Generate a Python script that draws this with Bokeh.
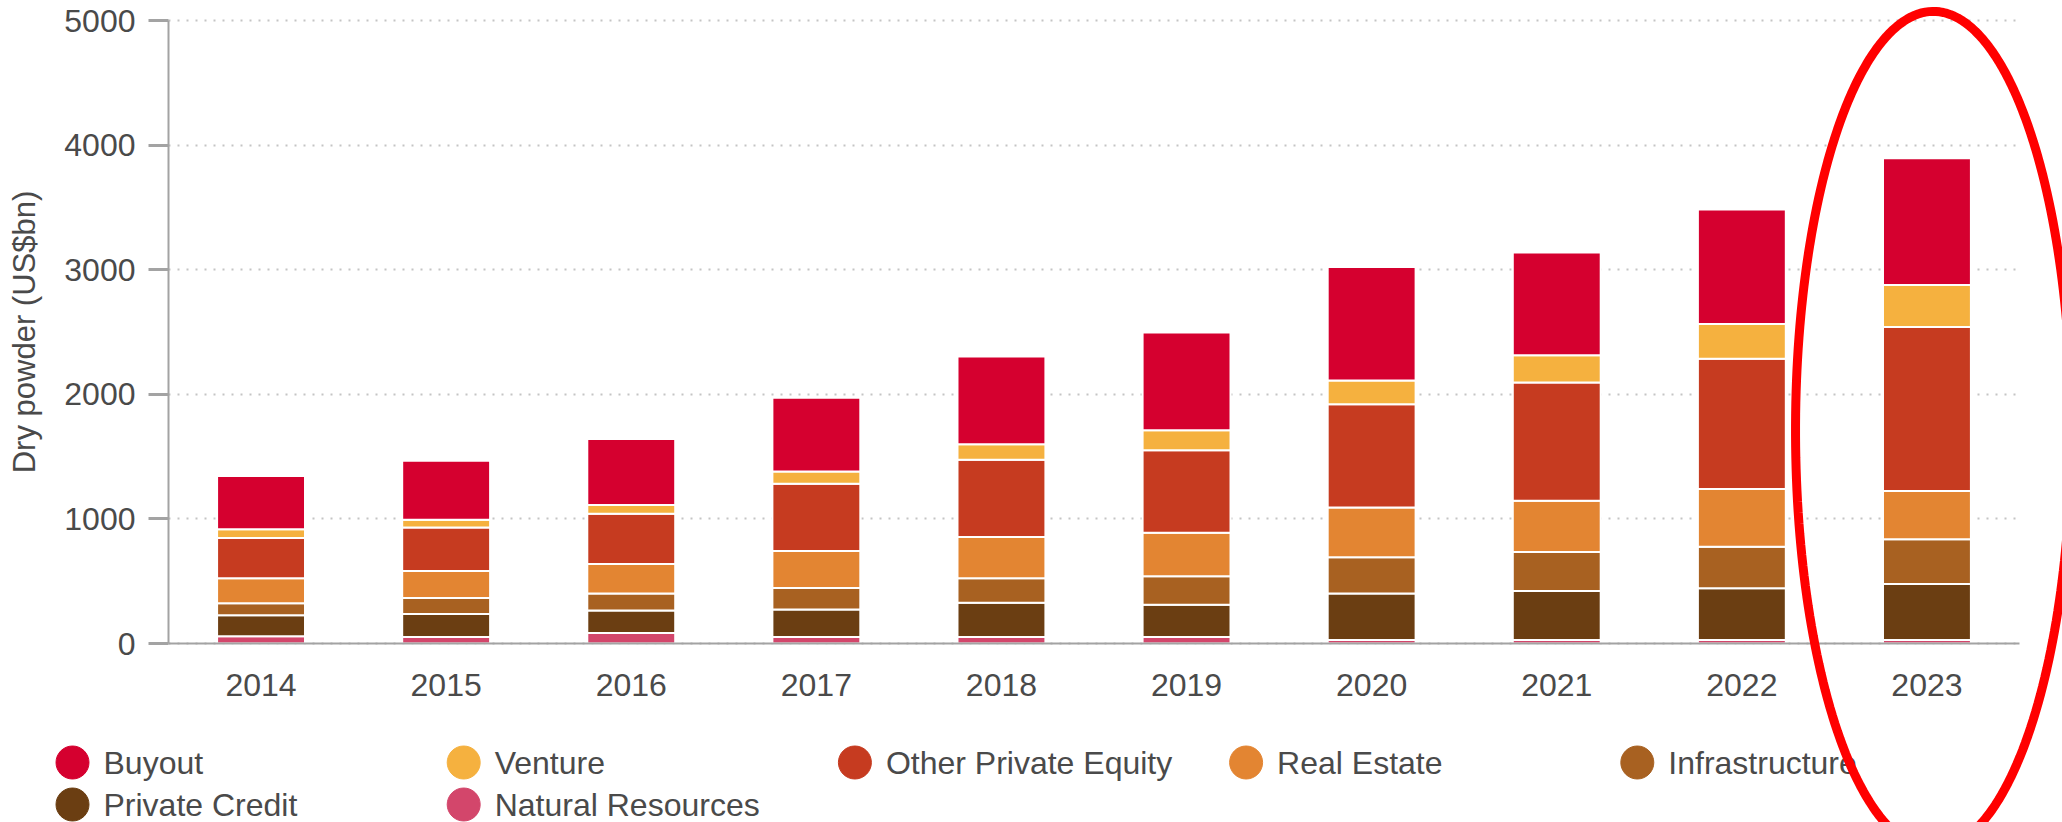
import numpy as np
from bokeh.plotting import figure
from bokeh.models import ColumnDataSource, Range1d, FixedTicker, PolyAnnotation
from bokeh.core.properties import value
from bokeh.embed import file_html
from bokeh.resources import INLINE

# ---------------- data (US$bn) ----------------
years = [2014, 2015, 2016, 2017, 2018, 2019, 2020, 2021, 2022, 2023]
natural_resources = [59, 52, 84, 52, 52, 52, 28, 28, 28, 28]
private_credit = [167, 185, 181, 220, 276, 258, 373, 394, 415, 449]
infrastructure = [98, 129, 136, 174, 195, 230, 292, 313, 334, 359]
real_estate = [199, 216, 237, 296, 331, 349, 398, 411, 463, 387]
other_private_equity = [324, 348, 404, 540, 620, 662, 829, 948, 1046, 1317]
venture = [69, 63, 69, 98, 125, 160, 191, 220, 278, 338]
buyout = [429, 474, 530, 592, 704, 784, 910, 825, 920, 1017]

series_names = ["Natural Resources", "Private Credit", "Infrastructure",
                "Real Estate", "Other Private Equity", "Venture", "Buyout"]
series_keys = ["nr", "pc", "inf", "re", "ope", "ven", "buy"]
series_colors = ["#D3466B", "#6B3E12", "#A86121", "#E38532",
                 "#C63B20", "#F5B13F", "#D5002F"]
legend_order = ["Buyout", "Venture", "Other Private Equity", "Real Estate",
                "Infrastructure", "Private Credit", "Natural Resources"]
y_ticks = [0, 1000, 2000, 3000, 4000, 5000]
y_max = 5000

src = ColumnDataSource(dict(year=years, nr=natural_resources, pc=private_credit,
                            inf=infrastructure, re=real_estate,
                            ope=other_private_equity, ven=venture, buy=buyout))

FONT = "Liberation Sans"
TEXT = "#4a4a4a"
AXIS = "#a3a3a3"

W, H = 2062, 822
# layout (pixels): plot area from x=168 to 2019, value 5000 at y=20 and 0 at y=643
PX_LEFT, PX_RIGHT, PX_TOP, PX_ZERO = 168, 2019, 20, 643
px_per_year = (PX_RIGHT - PX_LEFT) / len(years)
units_per_px = y_max / (PX_ZERO - PX_TOP)
x_lo = years[0] - 0.5
x_hi = years[-1] + 0.5
x_start = x_lo - PX_LEFT / px_per_year
x_end = x_lo + (W - PX_LEFT) / px_per_year
y_end = y_max + PX_TOP * units_per_px
y_start = -(H - PX_ZERO) * units_per_px


def px_to_x(px):
    return x_start + px / px_per_year


def px_to_y(py):
    return y_end - py * units_per_px


p = figure(width=W, height=H,
           x_range=Range1d(x_start, x_end), y_range=Range1d(y_start, y_end),
           output_backend="svg", toolbar_location=None)
p.min_border = 0
p.outline_line_color = None
p.background_fill_color = "white"

renderers = p.vbar_stack(series_keys, x="year", width=0.475, color=series_colors,
                         source=src, line_color="white", line_width=2)

# axes (anchored inside the frame)
p.xaxis.fixed_location = 0
p.xaxis.bounds = (x_lo, x_hi)
p.xaxis.ticker = FixedTicker(ticks=years)
p.xaxis.major_tick_out = 0
p.xaxis.major_tick_in = 0
p.xaxis.minor_tick_out = 0
p.xaxis.minor_tick_in = 0
p.xaxis.major_label_standoff = 30
p.xaxis.axis_line_color = AXIS
p.xaxis.axis_line_width = 2

p.yaxis.fixed_location = x_lo
p.yaxis.bounds = (0, y_max)
p.yaxis.ticker = FixedTicker(ticks=y_ticks)
p.yaxis.major_tick_out = 20
p.yaxis.major_tick_in = 0
p.yaxis.minor_tick_out = 0
p.yaxis.minor_tick_in = 0
p.yaxis.major_tick_line_color = AXIS
p.yaxis.major_tick_line_width = 3
p.yaxis.major_label_standoff = 13
p.yaxis.axis_line_color = AXIS
p.yaxis.axis_line_width = 2
p.yaxis.axis_label = "Dry powder (US$bn)"
p.yaxis.axis_label_standoff = 19
p.yaxis.axis_label_text_font_style = "normal"

for ax in (p.xaxis, p.yaxis):
    ax.major_label_text_font = FONT
    ax.major_label_text_font_size = "32px"
    ax.major_label_text_color = TEXT
    ax.axis_label_text_font = FONT
    ax.axis_label_text_font_size = "31px"
    ax.axis_label_text_color = TEXT

p.xgrid.visible = False
grid = p.ygrid[0]
grid.ticker = FixedTicker(ticks=y_ticks)
grid.bounds = (0, y_max)
grid.grid_line_color = "#c4c4c4"
grid.grid_line_width = 2
grid.grid_line_dash = "2 7"
if "cross_bounds" in grid.properties():
    grid.cross_bounds = (x_lo, x_hi)

# legend: circular swatches and labels, 5 columns x 2 rows
LEG_X0, LEG_DX, LEG_Y0, LEG_DY, LEG_TXT = 72, 391.2, 762, 42, 31
color_of = dict(zip(series_names, series_colors))
leg_cx, leg_cy, leg_tx = [], [], []
for i, name in enumerate(legend_order):
    row, col = divmod(i, 5)
    leg_cx.append(px_to_x(LEG_X0 + col * LEG_DX))
    leg_tx.append(px_to_x(LEG_X0 + col * LEG_DX + LEG_TXT))
    leg_cy.append(px_to_y(LEG_Y0 + row * LEG_DY))
leg_src = ColumnDataSource(dict(cx=leg_cx, tx=leg_tx, cy=leg_cy, label=legend_order,
                                color=[color_of[n] for n in legend_order]))
p.scatter(x="cx", y="cy", marker="circle", size=33, fill_color="color",
          line_color="color", source=leg_src)
p.text(x="tx", y="cy", text="label", source=leg_src, text_baseline="middle",
       text_align="left", text_font=value(FONT), text_font_size="32px",
       text_color=TEXT)

# red highlight ellipse around the latest year
t = np.linspace(0, 2 * np.pi, 240)
ell_cx, ell_cy, ell_a, ell_b = years[-1] + 0.035, 1710, 0.745, 3363
p.add_layout(PolyAnnotation(xs=list(ell_cx + ell_a * np.cos(t)),
                            ys=list(ell_cy + ell_b * np.sin(t)),
                            fill_alpha=0, line_alpha=1.0,
                            line_color="#FF0000", line_width=9))

open("out.html", "w").write(file_html(p, INLINE))
